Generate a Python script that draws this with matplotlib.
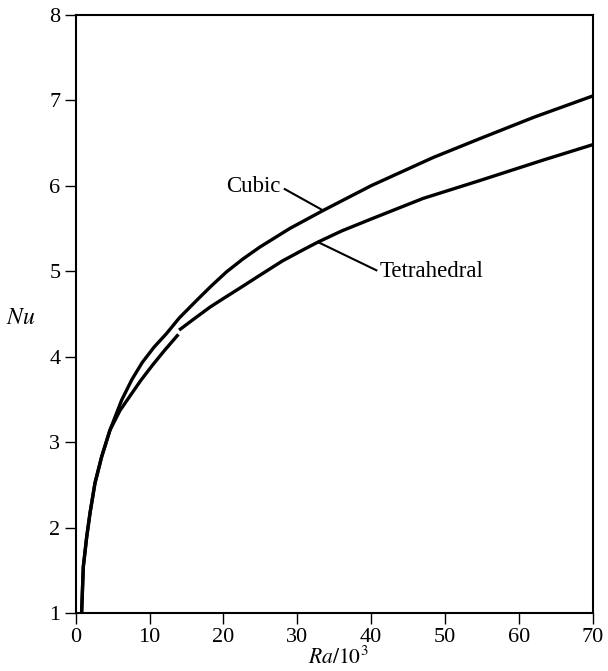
import matplotlib
matplotlib.use("Agg")
import matplotlib.pyplot as plt

# values (Ra/10^3, Nu)
cubic_ra = [0.8, 1.03, 1.49, 1.94, 2.61, 3.52, 4.64, 6.22, 7.6, 9.0, 10.6,
            12.3, 14.0, 16.4, 18.4, 20.4, 22.6, 24.9, 29.0, 33.5, 40.0,
            48.4, 54.7, 62.0, 70.0]
cubic_nu = [1.0, 1.54, 1.89, 2.17, 2.52, 2.83, 3.14, 3.49, 3.73, 3.93, 4.11,
            4.27, 4.45, 4.66, 4.83, 4.99, 5.14, 5.28, 5.50, 5.71, 6.00,
            6.33, 6.55, 6.80, 7.05]

# tetrahedral is drawn in two pieces, with the small break near Ra = 14
tetra_ra_a = [0.8, 1.03, 1.49, 1.94, 2.61, 3.52, 4.64, 6.0, 7.36, 8.8, 10.4,
              12.0, 13.9]
tetra_nu_a = [1.0, 1.54, 1.89, 2.17, 2.52, 2.83, 3.14, 3.37, 3.54, 3.72, 3.90,
              4.07, 4.26]
tetra_ra_b = [14.0, 16.0, 18.2, 20.0, 22.2, 24.9, 28.0, 30.8, 32.8, 36.0,
              40.0, 47.0, 54.7, 63.3, 70.0]
tetra_nu_b = [4.31, 4.44, 4.58, 4.68, 4.80, 4.95, 5.12, 5.25, 5.34, 5.47,
              5.61, 5.85, 6.06, 6.30, 6.48]

xticks = [0, 10, 20, 30, 40, 50, 60, 70]
yticks = [1, 2, 3, 4, 5, 6, 7, 8]

plt.rcParams['font.family'] = ['Liberation Serif', 'DejaVu Serif']
plt.rcParams['mathtext.fontset'] = 'stix'

fig = plt.figure(figsize=(6.08, 6.71), dpi=100)
ax = fig.add_axes([0.1245, 0.0865, 0.975 - 0.1245, 0.978 - 0.0865])

lw = 2.4
ax.plot(cubic_ra, cubic_nu, color='black', lw=lw, solid_capstyle='butt', solid_joinstyle='round')
ax.plot(tetra_ra_a, tetra_nu_a, color='black', lw=lw, solid_capstyle='butt', solid_joinstyle='round')
ax.plot(tetra_ra_b, tetra_nu_b, color='black', lw=lw, solid_capstyle='butt', solid_joinstyle='round')

ax.set_xlim(0, 70)
ax.set_ylim(1, 8)
ax.set_xticks(xticks)
ax.set_yticks(yticks)
ax.tick_params(direction='out', length=8, width=1, labelsize=16, pad=3)
for s in ax.spines.values():
    s.set_linewidth(1.5)

# labels on the curves
ax.text(20.4, 5.99, "Cubic", fontsize=16.5, va='center', ha='left')
ax.plot([28.3, 33.5], [5.96, 5.71], color='black', lw=1.5)
ax.text(41.2, 4.99, "Tetrahedral", fontsize=16.5, va='center', ha='left')
ax.plot([32.8, 40.7], [5.34, 5.01], color='black', lw=1.5)

ax.set_xlabel(r'$Ra/10^3$', fontsize=15.5, va='bottom')
ax.xaxis.set_label_coords(0.507, -0.094)
ax.set_ylabel(r'$Nu$', fontsize=17, rotation=0, ha='center', va='center')
ax.yaxis.set_label_coords(-0.106, 0.493)

fig.savefig("out.png", dpi=100)
